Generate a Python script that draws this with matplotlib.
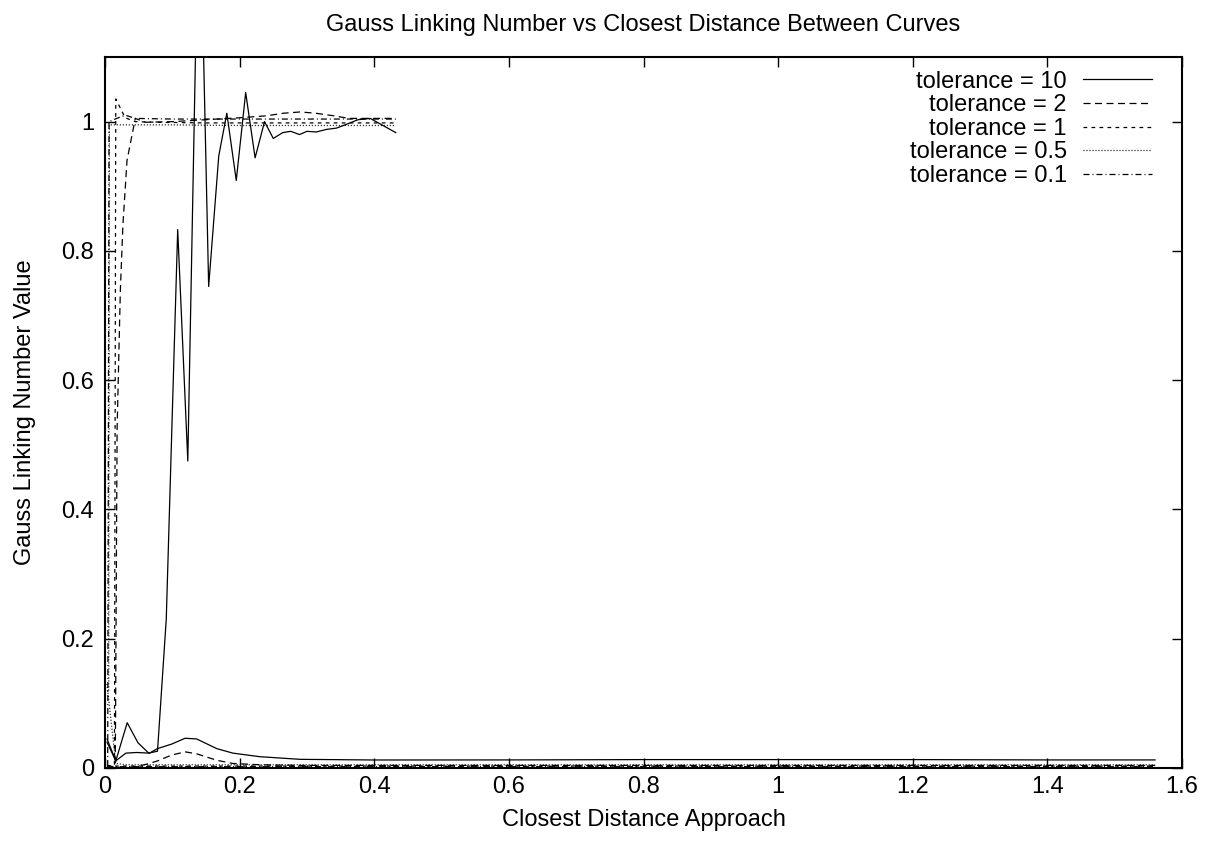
import matplotlib
matplotlib.use("Agg")
import matplotlib.pyplot as plt
from matplotlib.ticker import FuncFormatter

plt.rcParams['font.family'] = ['Liberation Sans', 'DejaVu Sans']
plt.rcParams['font.size'] = 17

# tolerance labels, one per pair of curves
tolerances = ["10", "2", "1", "0.5", "0.1"]

# linked curves (value goes to ~1)
x_hi_10 = [0.003, 0.016, 0.033, 0.049, 0.065, 0.078, 0.091, 0.108, 0.123, 0.140,
           0.154, 0.169, 0.181, 0.195, 0.209, 0.223, 0.237, 0.250, 0.264, 0.276,
           0.289, 0.300, 0.314, 0.329, 0.344, 0.359, 0.376, 0.394, 0.413, 0.432]
y_hi_10 = [0.040, 0.011, 0.070, 0.039, 0.023, 0.026, 0.230, 0.833, 0.475, 1.410,
           0.745, 0.947, 1.013, 0.909, 1.045, 0.944, 1.000, 0.974, 0.983, 0.985,
           0.980, 0.985, 0.984, 0.988, 0.990, 0.996, 1.003, 1.005, 0.994, 0.983]

x_hi_2 = [0.0153, 0.018, 0.0228, 0.0267, 0.0327, 0.045, 0.060, 0.100, 0.150, 0.200,
          0.240, 0.265, 0.290, 0.313, 0.340, 0.362, 0.395, 0.432]
y_hi_2 = [0.007, 0.525, 0.739, 0.842, 0.940, 1.005, 0.999, 1.000, 1.003, 1.006,
          1.009, 1.013, 1.015, 1.013, 1.009, 1.005, 1.005, 1.005]

x_hi_1 = [0.014, 0.016, 0.030, 0.045, 0.080, 0.150, 0.250, 0.350, 0.432]
y_hi_1 = [0.005, 1.035, 1.006, 1.000, 0.999, 0.998, 0.998, 0.998, 0.998]

x_hi_05 = [0.0055, 0.0065, 0.015, 0.100, 0.200, 0.300, 0.432]
y_hi_05 = [0.120, 0.995, 0.995, 0.995, 0.994, 0.994, 0.994]

x_hi_01 = [0.004, 0.006, 0.015, 0.030, 0.045, 0.100, 0.200, 0.300, 0.432]
y_hi_01 = [0.003, 1.000, 1.004, 1.010, 1.005, 1.004, 1.004, 1.004, 1.004]

# unlinked curves (value stays near 0)
x_lo = [0.003, 0.016, 0.031, 0.047, 0.066, 0.078, 0.099, 0.119, 0.136, 0.166,
        0.190, 0.230, 0.290, 0.400, 0.600, 0.800, 1.000, 1.200, 1.400, 1.560]
y_lo_10 = [0.045, 0.011, 0.023, 0.024, 0.023, 0.030, 0.037, 0.046, 0.045, 0.030,
           0.023, 0.0175, 0.0134, 0.0124, 0.0125, 0.013, 0.013, 0.013, 0.0125, 0.0125]
y_lo_2 = [0.002, 0.001, 0.001, 0.002, 0.007, 0.011, 0.020, 0.025, 0.022, 0.012,
          0.007, 0.005, 0.004, 0.004, 0.004, 0.004, 0.004, 0.004, 0.004, 0.004]
y_lo_1 = [0.004, 0.003, 0.003, 0.003, 0.003, 0.003, 0.003, 0.003, 0.003, 0.003,
          0.003, 0.003, 0.003, 0.003, 0.003, 0.003, 0.003, 0.003, 0.003, 0.003]
y_lo_05 = [0.130, 0.007, 0.005, 0.005, 0.005, 0.005, 0.005, 0.005, 0.005, 0.005,
           0.005, 0.005, 0.005, 0.005, 0.005, 0.005, 0.005, 0.005, 0.005, 0.005]
y_lo_01 = [0.003, 0.002, 0.002, 0.002, 0.002, 0.002, 0.002, 0.002, 0.002, 0.002,
           0.002, 0.002, 0.002, 0.002, 0.002, 0.002, 0.002, 0.002, 0.002, 0.002]

hi = [(x_hi_10, y_hi_10), (x_hi_2, y_hi_2), (x_hi_1, y_hi_1),
      (x_hi_05, y_hi_05), (x_hi_01, y_hi_01)]
lo = [y_lo_10, y_lo_2, y_lo_1, y_lo_05, y_lo_01]

styles = ['-', (0, (5.6, 3.6)), (0, (3.0, 3.4)), (0, (0.8, 1.6)),
          (0, (4.8, 2.4, 0.8, 2.4))]

fig = plt.figure(figsize=(12.07, 8.48), dpi=100)
ax = fig.add_axes([105/1207, 1 - 768/848, 1077/1207, 711/848])

lw = 0.9
for tol, (xh, yh), yl, ls in zip(tolerances, hi, lo, styles):
    ax.plot(xh, yh, color='black', linestyle=ls, linewidth=lw,
            label="tolerance = " + tol)
    ax.plot(x_lo, yl, color='black', linestyle=ls, linewidth=lw)

ax.set_xlim(0, 1.6)
ax.set_ylim(0, 1.1)
ax.set_xticks([0, 0.2, 0.4, 0.6, 0.8, 1.0, 1.2, 1.4, 1.6])
ax.set_yticks([0, 0.2, 0.4, 0.6, 0.8, 1.0])
fmt = FuncFormatter(lambda v, p: "%g" % v)
ax.xaxis.set_major_formatter(fmt)
ax.yaxis.set_major_formatter(fmt)
ax.tick_params(direction='in', top=True, right=True, length=7.2, width=1.0)
ax.tick_params(axis='y', pad=8)
ax.tick_params(axis='x', pad=6)
for s in ax.spines.values():
    s.set_linewidth(1.5)

ax.set_title("Gauss Linking Number vs Closest Distance Between Curves",
             fontsize=17, pad=19)
ax.set_xlabel("Closest Distance Approach", labelpad=8)
ax.set_ylabel("Gauss Linking Number Value", labelpad=18)

leg = ax.legend(loc='upper right', bbox_to_anchor=(0.972, 0.981), frameon=False,
                markerfirst=False, handlelength=2.9, handletextpad=0.7,
                labelspacing=0.07, borderpad=0, borderaxespad=0)

fig.savefig("out.png", dpi=100)
